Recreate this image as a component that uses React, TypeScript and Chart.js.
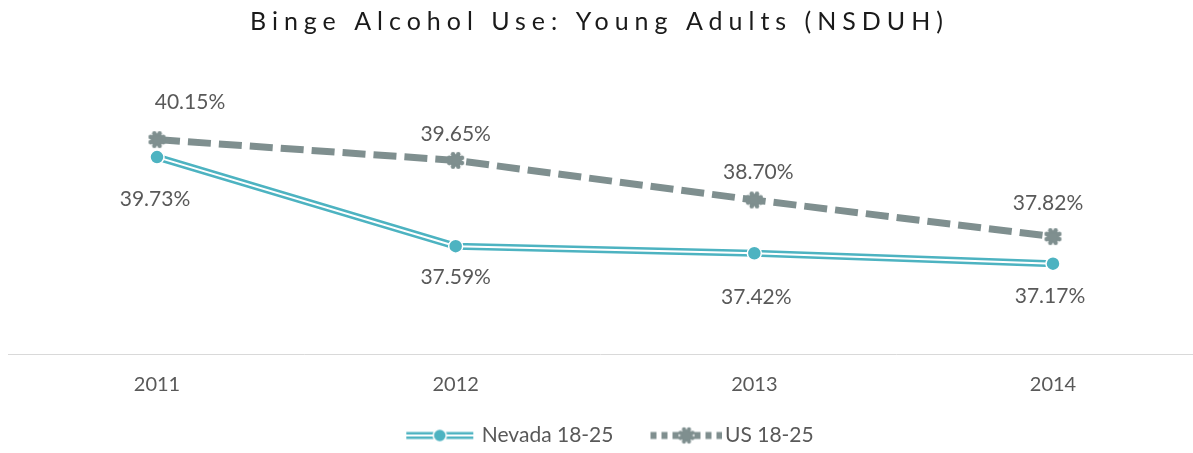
import React, { useEffect, useRef } from "react";
import { Chart, registerables } from "chart.js";

Chart.register(...registerables);

const years = ["2011", "2012", "2013", "2014"];
const nevadaValues = [39.73, 37.59, 37.42, 37.17];
const usValues = [40.15, 39.65, 38.7, 37.82];
const seriesNames = ["Nevada 18-25", "US 18-25"];
const titleText = "Binge Alcohol Use: Young Adults (NSDUH)";
const yMin = 35;
const yMax = 42;

// label placement relative to each point (dx, dy)
const nevadaLabelOffsets = [[-2, 42], [0, 31], [2, 44], [-3, 33]];
const usLabelOffsets = [[33, -37], [0, -26], [4, -28], [-5, -33]];

const TEAL = "#4DB3C1";
const GRAY = "#7F8F8F";
const TEXT = "#595959";
const FONT = "Lato, 'Open Sans', sans-serif";
const LEGEND_BOX = 92;
const LEGEND_CANVAS = 108;

function gearCanvas(size: number, color: string) {
  const c = document.createElement("canvas");
  c.width = size;
  c.height = size;
  const g = c.getContext("2d")!;
  g.fillStyle = color;
  const cx = size / 2;
  const cy = size / 2;
  g.beginPath();
  g.arc(cx, cy, size * 0.33, 0, Math.PI * 2);
  g.fill();
  for (let i = 0; i < 8; i++) {
    const a = (i * Math.PI) / 4 + Math.PI / 8;
    g.beginPath();
    g.arc(cx + Math.cos(a) * size * 0.36, cy + Math.sin(a) * size * 0.36, size * 0.12, 0, Math.PI * 2);
    g.fill();
  }
  return c;
}

const legendOffset = (LEGEND_CANVAS - LEGEND_BOX) / 2;

function nevadaLegendCanvas() {
  const c = document.createElement("canvas");
  c.width = LEGEND_CANVAS;
  c.height = 20;
  const g = c.getContext("2d")!;
  const x0 = legendOffset + 27;
  const x1 = x0 + 67;
  g.strokeStyle = TEAL;
  g.lineWidth = 7;
  g.beginPath();
  g.moveTo(x0, 10);
  g.lineTo(x1, 10);
  g.stroke();
  g.strokeStyle = "#ffffff";
  g.lineWidth = 2;
  g.beginPath();
  g.moveTo(x0, 10);
  g.lineTo(x1, 10);
  g.stroke();
  g.fillStyle = TEAL;
  g.strokeStyle = "#ffffff";
  g.lineWidth = 1.5;
  g.beginPath();
  g.arc((x0 + x1) / 2, 10, 6.5, 0, Math.PI * 2);
  g.fill();
  g.stroke();
  return c;
}

function usLegendCanvas() {
  const c = document.createElement("canvas");
  c.width = LEGEND_CANVAS;
  c.height = 20;
  const g = c.getContext("2d")!;
  const x0 = legendOffset + 28;
  const x1 = x0 + 72;
  g.strokeStyle = GRAY;
  g.lineWidth = 7;
  g.setLineDash([6, 5]);
  g.beginPath();
  g.moveTo(x0, 10);
  g.lineTo(x1, 10);
  g.stroke();
  g.drawImage(gearCanvas(18, GRAY), (x0 + x1) / 2 - 9, 1);
  return c;
}

const titlePlugin = {
  id: "spacedTitle",
  afterDraw(chart: any) {
    const ctx = chart.ctx;
    ctx.save();
    ctx.font = `25px ${FONT}`;
    ctx.fillStyle = "#1a1a1a";
    ctx.textBaseline = "alphabetic";
    ctx.textAlign = "left";
    (ctx as any).letterSpacing = "0px";
    const w0 = ctx.measureText(titleText).width;
    const n = titleText.length;
    const targetWidth = 693;
    const spacing = (targetWidth - w0) / (n - 1);
    (ctx as any).letterSpacing = `${spacing}px`;
    const left = chart.width / 2 - targetWidth / 2;
    ctx.fillText(titleText, left, 30);
    ctx.restore();
  },
};

const axisLinePlugin = {
  id: "axisLine",
  beforeDatasetsDraw(chart: any) {
    const ctx = chart.ctx;
    const y = chart.scales.y.getPixelForValue(yMin);
    ctx.save();
    ctx.strokeStyle = "#D9D9D9";
    ctx.lineWidth = 1;
    ctx.beginPath();
    ctx.moveTo(8, Math.round(y) + 0.5);
    ctx.lineTo(chart.width, Math.round(y) + 0.5);
    ctx.stroke();
    ctx.restore();
  },
};

const labelPlugin = {
  id: "valueLabels",
  afterDatasetsDraw(chart: any) {
    const ctx = chart.ctx;
    ctx.save();
    ctx.font = `21px ${FONT}`;
    ctx.fillStyle = TEXT;
    ctx.textAlign = "center";
    ctx.textBaseline = "middle";
    const draw = (dsIndex: number, values: number[], offsets: number[][]) => {
      const meta = chart.getDatasetMeta(dsIndex);
      meta.data.forEach((pt: any, i: number) => {
        ctx.fillText(values[i].toFixed(2) + "%", pt.x + offsets[i][0], pt.y + offsets[i][1]);
      });
    };
    draw(0, nevadaValues, nevadaLabelOffsets);
    draw(3, usValues, usLabelOffsets);
    ctx.restore();
  },
};

export default function App() {
  const canvasRef = useRef<HTMLCanvasElement | null>(null);

  useEffect(() => {
    if (!canvasRef.current) return;
    const gear = gearCanvas(19, GRAY);
    const legendImgs = [nevadaLegendCanvas(), usLegendCanvas()];
    const chart = new Chart(canvasRef.current, {
      type: "line",
      data: {
        labels: years,
        datasets: [
          {
            label: seriesNames[0],
            data: nevadaValues,
            borderColor: TEAL,
            backgroundColor: TEAL,
            borderWidth: 7,
            pointRadius: 0,
            tension: 0,
            order: 3,
          },
          {
            label: "_inner",
            data: nevadaValues,
            borderColor: "#ffffff",
            borderWidth: 2,
            pointRadius: 0,
            tension: 0,
            order: 2,
          },
          {
            label: "_points",
            data: nevadaValues,
            showLine: false,
            pointRadius: 7,
            pointBackgroundColor: TEAL,
            pointBorderColor: "#ffffff",
            pointBorderWidth: 1.5,
            order: 1,
          },
          {
            label: seriesNames[1],
            data: usValues,
            borderColor: GRAY,
            backgroundColor: GRAY,
            borderWidth: 7,
            borderDash: [23, 8],
            borderCapStyle: "butt",
            pointStyle: gear as any,
            pointRadius: 9,
            tension: 0,
            order: 5,
          },
        ],
      },
      options: {
        animation: false,
        responsive: true,
        maintainAspectRatio: false,
        events: [],
        layout: { padding: { left: 140, right: 140, top: 62.6, bottom: -3 } },
        scales: {
          x: {
            offset: false,
            grid: { display: false, drawTicks: false },
            border: { display: false },
            ticks: { color: TEXT, font: { family: FONT, size: 20 }, padding: 19 },
          },
          y: {
            display: true,
            min: yMin,
            max: yMax,
            grid: { display: false, drawTicks: false },
            border: { display: false },
            ticks: { display: false },
            afterFit: (scale: any) => {
              scale.width = 17;
            },
          },
        },
        plugins: {
          title: { display: false },
          tooltip: { enabled: false },
          legend: {
            position: "bottom",
            labels: {
              usePointStyle: true,
              pointStyleWidth: LEGEND_BOX,
              padding: 9,
              color: TEXT,
              font: { family: FONT, size: 21 },
              generateLabels: () =>
                seriesNames.map((name, i) => ({
                  text: name,
                  pointStyle: legendImgs[i] as any,
                  fillStyle: "transparent",
                  strokeStyle: "transparent",
                  lineWidth: 0,
                  hidden: false,
                  datasetIndex: i === 0 ? 0 : 3,
                  fontColor: TEXT,
                })),
            },
          },
        },
      },
      plugins: [titlePlugin, axisLinePlugin, labelPlugin],
    });
    return () => chart.destroy();
  }, []);

  return (
    <div style={{ position: "absolute", left: 0, top: 0, width: 1193, height: 453 }}>
      <canvas ref={canvasRef} />
    </div>
  );
}
